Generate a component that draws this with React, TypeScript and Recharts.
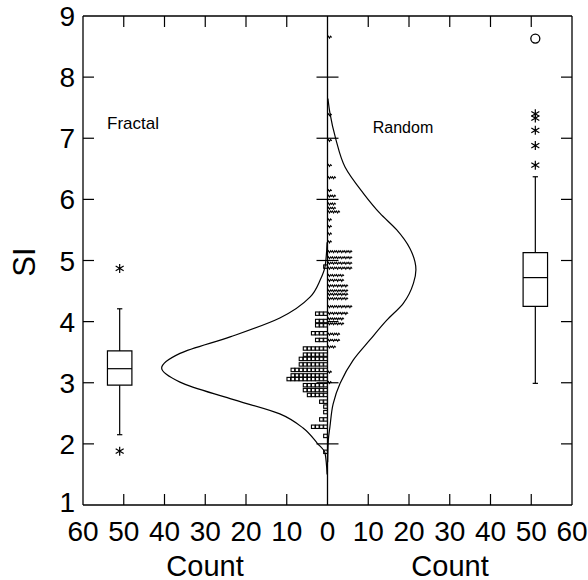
import React from 'react';
import { ScatterChart, Scatter, XAxis, YAxis, ReferenceLine, ReferenceArea } from 'recharts';

const FONT = '"Liberation Sans", Arial, Helvetica, sans-serif';

// axis ticks (left half of the count axis is stored as negative numbers)
const COUNT_TICKS = [-60, -50, -40, -30, -20, -10, 0, 10, 20, 30, 40, 50, 60];
const SI_TICKS = [1, 2, 3, 4, 5, 6, 7, 8, 9];

// dot plot rows: SI of each row and how many points sit in it
const FRACTAL_SI = [4.9, 4.13, 4.01, 3.94, 3.81, 3.7, 3.56, 3.46, 3.39, 3.3, 3.21, 3.12, 3.06, 2.96, 2.88, 2.8, 2.69, 2.61, 2.52, 2.4, 2.28, 2.13, 1.87];
const FRACTAL_N = [1, 3, 3, 3, 4, 3, 6, 6, 7, 7, 9, 9, 10, 6, 6, 5, 2, 1, 1, 2, 4, 1, 1];
const RANDOM_SI = [8.65, 7.38, 6.96, 6.55, 6.35, 6.14, 6.05, 5.92, 5.85, 5.79, 5.66, 5.55, 5.43, 5.3, 5.14, 5.04, 4.95, 4.87, 4.75, 4.67, 4.58, 4.5, 4.44, 4.37, 4.24, 4.13, 4.04, 3.96, 3.79, 3.69, 3.58, 3.17, 3.0];
const RANDOM_N = [1, 1, 1, 1, 2, 1, 2, 2, 2, 3, 1, 1, 1, 1, 6, 6, 6, 6, 4, 4, 5, 5, 5, 5, 6, 5, 4, 4, 3, 3, 2, 1, 1];

// fitted curves (SI, count)
const FRACTAL_CURVE_SI = [5.3, 4.9, 4.68, 4.4, 4.06, 3.75, 3.48, 3.24, 3.01, 2.74, 2.49, 2.26, 2.01, 1.85, 1.5];
const FRACTAL_CURVE_COUNT = [0.1, 0.6, 1.8, 4.3, 11.7, 23.9, 36.2, 40.7, 36.2, 23.9, 11.7, 6.0, 2.5, 0.6, 0.1];
const RANDOM_CURVE_SI = [7.65, 7.41, 6.97, 6.53, 6.1, 5.77, 5.5, 5.2, 4.85, 4.63, 4.3, 4.02, 3.7, 3.37, 2.99, 2.66, 2.28, 2.06, 1.7];
const RANDOM_CURVE_COUNT = [0.1, 0.6, 2.1, 4.3, 8.8, 12.9, 17.0, 20.2, 21.7, 21.1, 18.6, 14.5, 10.4, 6.3, 3.1, 1.4, 0.6, 0.2, 0.05];

// box plots: [lower whisker, Q1, median, Q3, upper whisker]
const FRACTAL_BOX = [2.15, 2.96, 3.23, 3.52, 4.21];
const FRACTAL_STARS = [4.87, 1.88];
const RANDOM_BOX = [2.99, 4.25, 4.72, 5.13, 6.37];
const RANDOM_STARS = [7.4, 7.33, 7.13, 6.88, 6.56];
const RANDOM_CIRCLES = [8.63];
const BOX_AT = 51;

const TICK_X = 2.7;
const TICK_Y = 0.18;

// expand the rows into single points, stacked outward from the centre line
const dots = (si: number[], n: number[], sign: number) =>
  si.flatMap((y, i) => Array.from({ length: n[i] }, (_, k) => ({ x: sign * (k + 0.5), y })));
const curve = (si: number[], c: number[], sign: number) => si.map((y, i) => ({ x: sign * c[i], y }));

const fractalDots = dots(FRACTAL_SI, FRACTAL_N, -1);
const randomDots = dots(RANDOM_SI, RANDOM_N, 1);
const fractalCurve = curve(FRACTAL_CURVE_SI, FRACTAL_CURVE_COUNT, -1);
const randomCurve = curve(RANDOM_CURVE_SI, RANDOM_CURVE_COUNT, 1);

const Square = (p: any) => (
  <rect x={p.cx - 1.8} y={p.cy - 1.7} width={3.6} height={3.4} fill="#fff" stroke="#000" strokeWidth={1.1} />
);
const Tilde = (p: any) => (
  <path d={`M${p.cx - 2.2},${p.cy + 0.4} l1.1,-1.6 l1.1,1.9 l1.1,-1.9 l1.1,1.3`} fill="none" stroke="#000" strokeWidth={1.05} />
);
const Star = (p: any) => (
  <path
    d={`M${p.cx},${p.cy - 4.5}V${p.cy + 4.5}M${p.cx - 4},${p.cy - 2.4}L${p.cx + 4},${p.cy + 2.4}M${p.cx - 4},${p.cy + 2.4}L${p.cx + 4},${p.cy - 2.4}`}
    stroke="#000"
    strokeWidth={1.2}
  />
);
const Ring = (p: any) => <circle cx={p.cx} cy={p.cy} r={4.5} fill="none" stroke="#000" strokeWidth={1.3} />;
const NoDot = () => <g />;

// y tick labels; the bottom "1" sits a little higher, clear of the count labels
const SiTick = (p: any) => (
  <text x={p.x} y={p.y - (p.payload.value === 1 ? 3 : 0)} dy="0.36em" textAnchor="end" fill="#000" fontSize={28} fontFamily={FONT}>
    {p.payload.value}
  </text>
);

const seg = (key: string, x1: number, y1: number, x2: number, y2: number, w = 1.2) => (
  <ReferenceLine key={key} segment={[{ x: x1, y: y1 }, { x: x2, y: y2 }]} stroke="#000" strokeWidth={w} ifOverflow="visible" />
);

const boxPlot = (name: string, s: number[], pos: number) => [
  <ReferenceArea key={name + 'box'} x1={pos - 3} x2={pos + 3} y1={s[1]} y2={s[3]} fill="none" fillOpacity={0} stroke="#000" strokeWidth={1.2} ifOverflow="visible" />,
  seg(name + 'med', pos - 3, s[2], pos + 3, s[2]),
  seg(name + 'wlo', pos, s[0], pos, s[1]),
  seg(name + 'whi', pos, s[3], pos, s[4]),
  seg(name + 'clo', pos - 0.65, s[0], pos + 0.65, s[0]),
  seg(name + 'chi', pos - 0.65, s[4], pos + 0.65, s[4]),
];

const inner = COUNT_TICKS.filter((t) => t !== 0 && Math.abs(t) !== 60);
const innerSI = SI_TICKS.filter((t) => t !== 1 && t !== 9);

export default function App() {
  return (
    <div style={{ position: 'absolute', left: 0, top: 0, width: 588, height: 580, background: '#fff', fontFamily: FONT }}>
      <ScatterChart width={588} height={580} margin={{ top: 16, right: 16, bottom: 0, left: 0 }}>
        <XAxis
          type="number"
          dataKey="x"
          domain={[-60, 60]}
          ticks={COUNT_TICKS}
          interval={0}
          allowDataOverflow
          tickFormatter={(v: number) => String(Math.abs(v))}
          height={75}
          axisLine={false}
          tickLine={false}
          tickMargin={10}
          tick={{ fill: '#000', fontSize: 28, fontFamily: FONT }}
        />
        <YAxis
          type="number"
          dataKey="y"
          domain={[1, 9]}
          ticks={SI_TICKS}
          interval={0}
          allowDataOverflow
          width={83}
          axisLine={false}
          tickLine={false}
          tick={SiTick}
        />
        {/* frame and centre line */}
        {seg('fl', -60, 1, -60, 9, 1.3)}
        {seg('fr', 60, 1, 60, 9, 1.3)}
        {seg('fb', -60, 1, 60, 1, 1.3)}
        {seg('ft', -60, 9, 60, 9, 1.3)}
        {seg('fc', 0, 1, 0, 9, 1.3)}
        {inner.map((t) => seg('tb' + t, t, 1, t, 1 + TICK_Y))}
        {inner.map((t) => seg('tt' + t, t, 9, t, 9 - TICK_Y))}
        {innerSI.map((t) => seg('tl' + t, -60, t, -60 + TICK_X, t))}
        {innerSI.map((t) => seg('tr' + t, 60, t, 60 - TICK_X, t))}
        {innerSI.map((t) => seg('tc' + t, -TICK_X, t, TICK_X, t))}
        {boxPlot('f', FRACTAL_BOX, -BOX_AT)}
        {boxPlot('r', RANDOM_BOX, BOX_AT)}
        <Scatter data={fractalDots} shape={Square} isAnimationActive={false} />
        <Scatter data={randomDots} shape={Tilde} isAnimationActive={false} />
        <Scatter
          data={fractalCurve}
          shape={NoDot}
          line={{ stroke: '#000', strokeWidth: 1.2 }}
          lineJointType="monotoneY"
          isAnimationActive={false}
        />
        <Scatter
          data={randomCurve}
          shape={NoDot}
          line={{ stroke: '#000', strokeWidth: 1.2 }}
          lineJointType="monotoneY"
          isAnimationActive={false}
        />
        <Scatter data={FRACTAL_STARS.map((y) => ({ x: -BOX_AT, y }))} shape={Star} isAnimationActive={false} />
        <Scatter data={RANDOM_STARS.map((y) => ({ x: BOX_AT, y }))} shape={Star} isAnimationActive={false} />
        <Scatter data={RANDOM_CIRCLES.map((y) => ({ x: BOX_AT, y }))} shape={Ring} isAnimationActive={false} />
      </ScatterChart>
      <div style={{ position: 'absolute', left: 133, top: 124, transform: 'translate(-50%, -50%)', fontSize: 17 }}>Fractal</div>
      <div style={{ position: 'absolute', left: 403, top: 128, transform: 'translate(-50%, -50%)', fontSize: 16 }}>Random</div>
      <div style={{ position: 'absolute', left: 205, top: 566, transform: 'translate(-50%, -50%)', fontSize: 29 }}>Count</div>
      <div style={{ position: 'absolute', left: 450, top: 566, transform: 'translate(-50%, -50%)', fontSize: 29 }}>Count</div>
      <div style={{ position: 'absolute', left: 25, top: 262, transform: 'translate(-50%, -50%) rotate(-90deg)', fontSize: 31 }}>SI</div>
    </div>
  );
}
